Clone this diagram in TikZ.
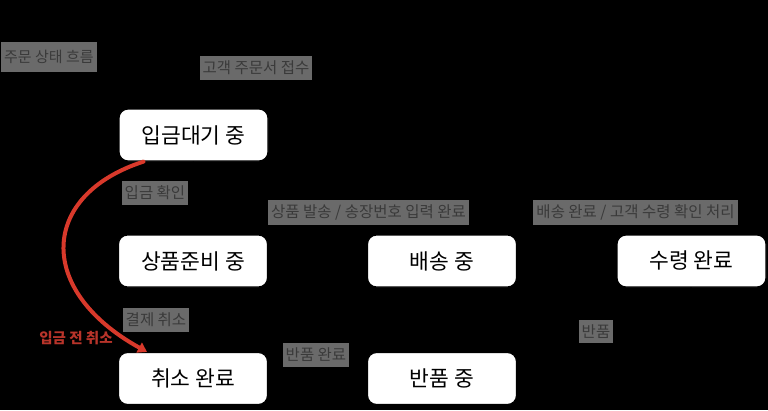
\documentclass[tikz,border=0pt]{standalone}
\usepackage{fontspec}
\setmainfont{Noto Sans CJK KR}
\usetikzlibrary{arrows.meta}
\definecolor{lblgray}{HTML}{6A6A6A}
\definecolor{lbltext}{HTML}{3A3A3A}
\definecolor{redc}{HTML}{D8392B}
\definecolor{redtext}{HTML}{B8342A}
\begin{document}
\begin{tikzpicture}[x=1pt,y=-1pt,
  state/.style={draw=black,line width=1.2pt,fill=white,rounded corners=9pt,
    minimum width=149pt,minimum height=52pt,inner sep=0pt,
    font=\fontsize{21.5}{24}\selectfont,text=black},
  lbl/.style={fill=lblgray,text=lbltext,font=\fontsize{15.5}{18}\selectfont,
    inner xsep=3pt,inner ysep=5pt},
  redlbl/.style={text=redtext,font=\bfseries\fontsize{14.5}{17}\selectfont,inner sep=2pt},
  flow/.style={draw=black,line width=1pt,-{Stealth[length=7pt]}},
  cancelpath/.style={draw=redc,line width=4pt,line cap=round,-{Triangle[length=9pt,width=11pt]}}
]
\useasboundingbox (0,0) rectangle (768,410);
\fill[black] (0,0) rectangle (768,410);

% states
\node[state] (wait) at (193.5,135) {입금대기 중};
\node[state] (prep) at (193,261) {상품준비 중};
\node[state] (ship) at (442,261) {배송 중};
\node[state] (recv) at (691.5,261) {수령 완료};
\node[state] (cncl) at (193,378.5) {취소 완료};
\node[state] (rtn) at (442,378.5) {반품 중};

\coordinate (start) at (193,30);

% connectors
\draw[flow] (start) -- (wait);
\draw[flow] (wait) -- (prep);
\draw[flow] (prep) -- (ship);
\draw[flow] (ship) -- (recv);
\draw[flow] (prep) -- (cncl);
\draw[flow] (recv.south) -- (rtn.east);
\draw[flow] (rtn) -- (cncl);

% red cancel curve
\draw[cancelpath] ([xshift=-50pt]wait.south) .. controls (40,195) and (35,290) .. ([xshift=-46pt]cncl.north);

% labels
\node[lbl,font=\fontsize{15}{18}\selectfont,inner ysep=8pt,anchor=west] (title) at (1,57) {주문 상태 흐름};
\node[lbl] (l0) at (256,68) {고객 주문서 접수};
\node[lbl] (l1) at (155,193) {입금 확인};
\node[lbl] (l2) at (368.5,212.5) {상품 발송 / 송장번호 입력 완료};
\node[lbl] (l3) at (635.5,212.5) {배송 완료 / 고객 수령 확인 처리};
\node[lbl] (l4) at (156,320) {결제 취소};
\node[redlbl] (l5) at (76,338.5) {입금 전 취소};
\node[lbl] (l6) at (316,355) {반품 완료};
\node[lbl] (l7) at (596,331.5) {반품};
\end{tikzpicture}
\end{document}
